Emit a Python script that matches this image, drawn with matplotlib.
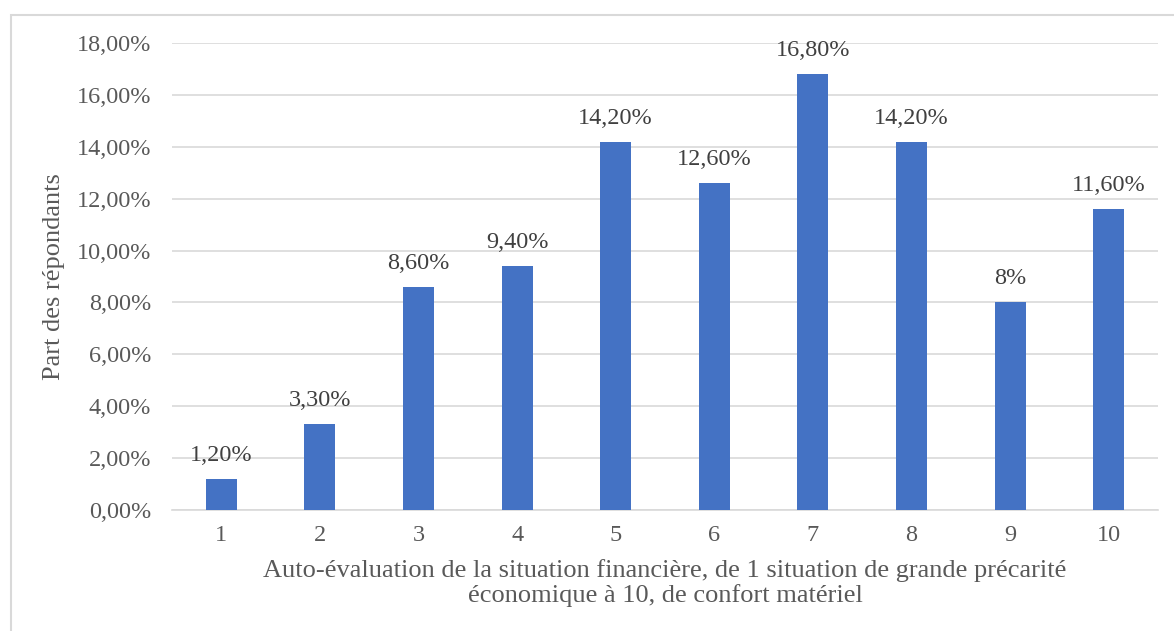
import matplotlib
matplotlib.use("Agg")
import matplotlib.pyplot as plt
from matplotlib.patches import Rectangle

categories = ["1", "2", "3", "4", "5", "6", "7", "8", "9", "10"]
values = [1.2, 3.3, 8.6, 9.4, 14.2, 12.6, 16.8, 14.2, 8.0, 11.6]
labels = ["1,20%", "3,30%", "8,60%", "9,40%", "14,20%", "12,60%", "16,80%", "14,20%", "8%", "11,60%"]
yticks = [0, 2, 4, 6, 8, 10, 12, 14, 16, 18]
ytick_labels = ["0,00%", "2,00%", "4,00%", "6,00%", "8,00%", "10,00%", "12,00%", "14,00%", "16,00%", "18,00%"]

plt.rcParams['font.family'] = ['Liberation Serif', 'DejaVu Serif']

fig = plt.figure(figsize=(11.74, 6.31), dpi=100)
fig.patches.append(Rectangle((11/1174, -0.1), 1.2, 1 - 14.5/631 + 0.1, transform=fig.transFigure,
                             fill=False, edgecolor='#d9d9d9', linewidth=1.5, zorder=0))
ax = fig.add_axes([172/1174, 1 - 510/631, (1158 - 172)/1174, (510 - 43)/631])

x = list(range(1, len(categories) + 1))
ax.bar(x, values, width=0.315, color='#4472C4', zorder=3)
for xi, v, lab in zip(x, values, labels):
    ax.text(xi, v + 0.5, lab, ha='center', va='bottom', fontsize=17.5, color='#404040')

ax.set_xlim(0.5, 10.5)
ax.set_ylim(0, 18)
ax.set_yticks(yticks)
ax.set_yticklabels(ytick_labels)
ax.set_xticks(x)
ax.set_xticklabels(categories)
ax.tick_params(axis='both', length=0, labelsize=17.5, colors='#595959')
ax.tick_params(axis='y', pad=15)
ax.tick_params(axis='x', pad=11)
ax.grid(axis='y', color='#d9d9d9', linewidth=1.2, zorder=0)
for s in ['top', 'right', 'left']:
    ax.spines[s].set_visible(False)
ax.spines['bottom'].set_color('#d9d9d9')
ax.spines['bottom'].set_linewidth(1.2)

ax.set_ylabel("Part des répondants", fontsize=19, color='#595959', labelpad=8)
ax.set_xlabel("Auto-évaluation de la situation financière, de 1 situation de grande précarité\néconomique à 10, de confort matériel",
              fontsize=19, color='#595959', labelpad=9, linespacing=1.1)

fig.savefig("out.png", dpi=100)
